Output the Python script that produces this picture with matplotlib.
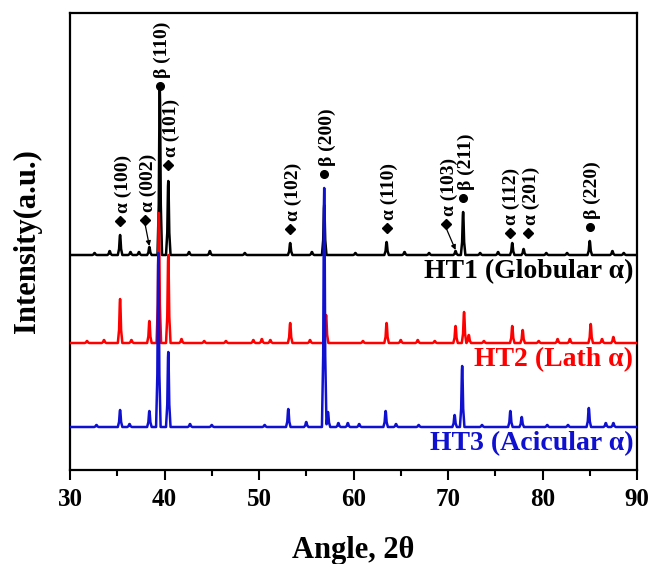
import matplotlib
matplotlib.use('Agg')
import matplotlib.pyplot as plt
import numpy as np

plt.rcParams['font.family'] = ['Liberation Serif', 'DejaVu Serif']
plt.rcParams['font.weight'] = 'bold'

# peak positions (2theta) and heights (a.u.) of each pattern
ht1_angle = [32.6, 34.2, 35.3, 36.4, 37.3, 38.4, 39.5, 40.4, 42.6, 44.8, 48.5,
             53.3, 55.6, 56.9, 60.2, 63.5, 65.4, 68.0, 70.8, 71.6, 73.4, 75.3,
             76.8, 78.0, 80.4, 82.6, 85.0, 87.4, 88.6]
ht1_height = [2, 4, 20, 3, 3, 8, 167, 74, 3, 4, 2,
              12, 3, 50, 2, 13, 3, 2, 4, 43, 2, 3,
              12, 6, 2, 2, 14, 4, 2]

ht2_angle = [31.8, 33.6, 35.3, 36.5, 38.4, 39.4, 40.4, 41.8, 44.2, 46.5, 49.4,
             50.3, 51.2, 53.3, 55.4, 57.1, 61.0, 63.5, 65.0, 66.8, 68.6, 70.8,
             71.7, 72.2, 73.8, 76.8, 77.9, 79.6, 81.6, 82.9, 85.1, 86.3, 87.5]
ht2_height = [2, 3, 44, 3, 22, 130, 88, 4, 2, 2, 3,
              4, 3, 20, 3, 28, 2, 20, 3, 3, 2, 17,
              31, 8, 2, 17, 13, 2, 4, 4, 19, 4, 6]

ht3_angle = [32.8, 35.3, 36.3, 38.4, 39.35, 40.4, 42.7, 45.0, 50.6, 53.1, 55.0,
             56.9, 57.3, 58.4, 59.4, 60.6, 63.4, 64.5, 66.9, 70.7, 71.5, 73.6,
             76.6, 77.8, 80.5, 82.7, 84.9, 86.7, 87.5]
ht3_height = [2, 17, 3, 16, 174, 75, 3, 2, 2, 18, 5,
              239, 15, 4, 4, 3, 16, 3, 2, 12, 61, 2,
              16, 10, 2, 2, 19, 4, 4]

series_names = ['HT1 (Globular α)', 'HT2 (Lath α)', 'HT3 (Acicular α)']
series_colors = ['black', '#ff0000', '#1010d0']
series_offsets = [215, 127, 43]

# reflections: label, angle, phase
peak_labels = ['α (100)', 'α (002)', 'β (110)', 'α (101)', 'α (102)', 'β (200)',
               'α (110)', 'α (103)', 'β (211)', 'α (112)', 'α (201)', 'β (220)']
peak_angles = [35.3, 38.4, 39.5, 40.4, 53.3, 56.9, 63.5, 70.8, 71.6, 76.8, 78.0, 85.0]
peak_phase = ['a', 'a', 'b', 'a', 'a', 'b', 'a', 'a', 'b', 'a', 'a', 'b']


def trace(angles, heights, half_width=0.24):
    # piecewise-linear pattern: one narrow peak per reflection on a flat baseline
    w = half_width
    prof_x = [-w, -0.45 * w, -0.12 * w, 0, 0.12 * w, 0.45 * w, w]
    prof_y = [0, 0.3, 0.93, 1, 0.93, 0.3, 0]
    xs = sorted(set([30.0, 90.0] + [a + d for a in angles for d in prof_x]))
    xs = np.array(xs)
    ys = np.zeros_like(xs)
    for a, h in zip(angles, heights):
        ys += h * np.interp(xs, [a + d for d in prof_x], prof_y, left=0, right=0)
    return xs, ys


fig = plt.figure(figsize=(6.66, 5.64), dpi=100)
ax = fig.add_axes([70 / 666, 1 - 470 / 564, 567 / 666, 457 / 564])

patterns = [(ht1_angle, ht1_height), (ht2_angle, ht2_height), (ht3_angle, ht3_height)]
tops = []
for i, (ang, hgt) in enumerate(patterns):
    x, y = trace(ang, hgt)
    y = y + series_offsets[i]
    tops.append((x, y))
    ax.plot(x, y, color=series_colors[i], lw=1.8, zorder=2 + i)
    ax.text(89.6, series_offsets[i] - 17, series_names[i], color=series_colors[i],
            fontsize=20, fontweight='bold', ha='right', va='center')

# markers and hkl labels above the reflections
for lab, ang, ph in zip(peak_labels, peak_angles, peak_phase):
    top = max(np.interp(ang, x, y) for x, y in tops)
    mx, my = ang, top + 14
    dx = 3
    if lab == 'β (110)':
        my = top + 2
    elif lab == 'α (101)':
        my = top + 16
    elif lab in ('α (002)', 'α (103)'):
        mx = ang - (0.46 if lab == 'α (002)' else 1.0)
        my = top + 27
        ax.annotate('', xy=(ang, top + 1), xytext=(mx, my - 4),
                    arrowprops=dict(arrowstyle='-|>', color='black', lw=0.9,
                                    mutation_scale=7, shrinkA=0, shrinkB=0))
    elif lab == 'α (112)':
        mx = ang - 0.2
        my = top + 10
        dx = 1
    elif lab == 'α (201)':
        mx = ang + 0.5
        my = top + 16
        dx = 3
    ax.plot(mx, my, marker='D' if ph == 'a' else 'o', color='black',
            markersize=5.5, zorder=6)
    ax.annotate(lab, xy=(mx, my), xytext=(dx, 8), textcoords='offset pixels',
                rotation=90, ha='center', va='bottom', fontsize=14, fontweight='bold')

ax.set_xlim(30, 90)
ax.set_ylim(0, 457)
ax.set_xticks(np.arange(30, 91, 10))
ax.set_xticks(np.arange(35, 90, 10), minor=True)
ax.set_yticks([])
ax.tick_params(axis='x', which='major', direction='out', length=7, width=1.5,
               labelsize=18, pad=6)
ax.tick_params(axis='x', which='minor', direction='out', length=4, width=1.5)
for lbl in ax.get_xticklabels():
    lbl.set_fontweight('bold')
for sp in ax.spines.values():
    sp.set_linewidth(1.6)

ax.set_xlabel('Angle, 2θ', fontsize=22, fontweight='bold', labelpad=18)
ax.set_ylabel('Intensity(a.u.)', fontsize=22, fontweight='bold', labelpad=20)

fig.savefig('out.png', dpi=100)
